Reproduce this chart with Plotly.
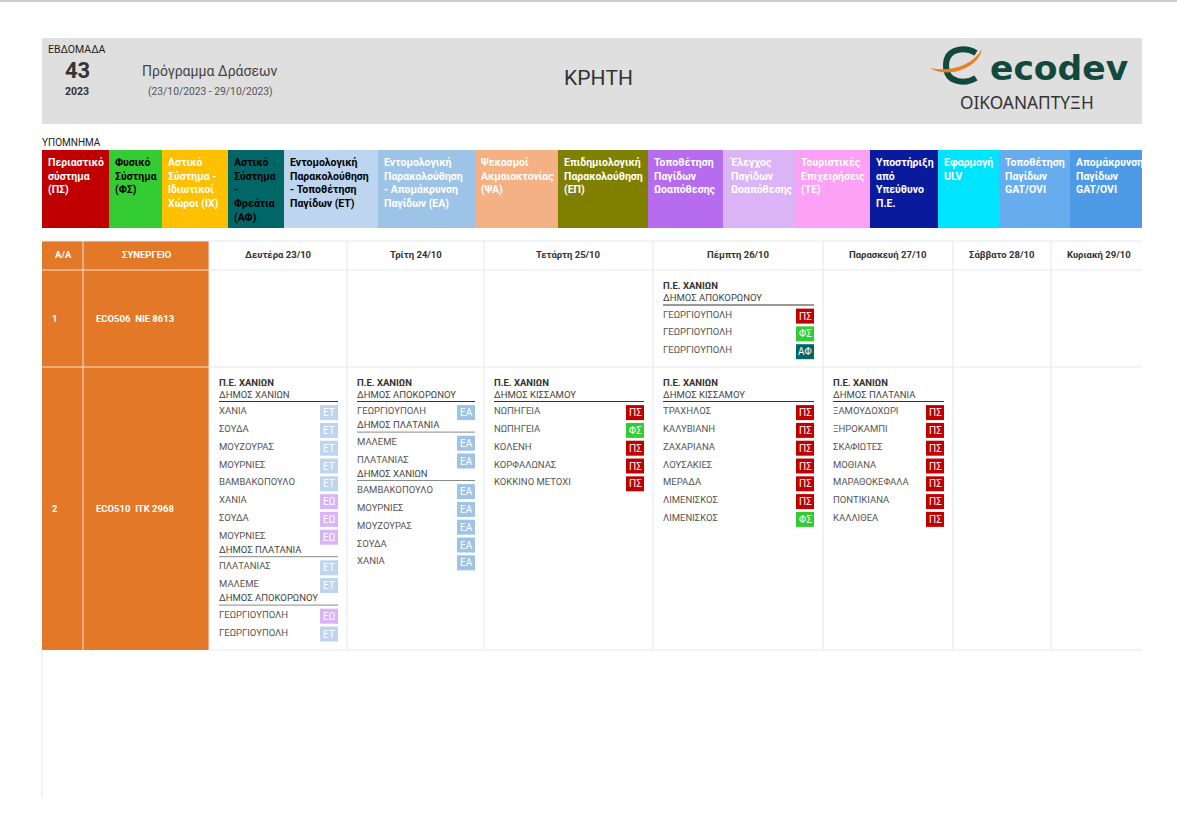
import plotly.graph_objects as go

FONT = "Roboto"

# legend
legend_labels = [
    "Περιαστικό<br>σύστημα<br>(ΠΣ)", "Φυσικό<br>Σύστημα<br>(ΦΣ)", "Αστικό<br>Σύστημα -<br>Ιδιωτικοί<br>Χώροι (ΙΧ)",
    "Αστικό<br>Σύστημα<br>-<br>Φρεάτια<br>(ΑΦ)", "Εντομολογική<br>Παρακολούθηση<br>- Τοποθέτηση<br>Παγίδων (ΕΤ)",
    "Εντομολογική<br>Παρακολούθηση<br>- Απομάκρυνση<br>Παγίδων (ΕΑ)", "Ψεκασμοί<br>Ακμαιοκτονίας<br>(ΨΑ)",
    "Επιδημιολογική<br>Παρακολούθηση<br>(ΕΠ)", "Τοποθέτηση<br>Παγίδων<br>Ωοαπόθεσης", "Έλεγχος<br>Παγίδων<br>Ωοαπόθεσης",
    "Τουριστικές<br>Επιχειρήσεις<br>(ΤΕ)", "Υποστήριξη<br>από<br>Υπεύθυνο<br>Π.Ε.", "Εφαρμογή<br>ULV",
    "Τοποθέτηση<br>Παγίδων<br>GAT/OVI", "Απομάκρυνση<br>Παγίδων<br>GAT/OVI",
]
legend_colors = ["#C00000", "#33CC33", "#FFC000", "#006666", "#BDD5EE", "#9DC3E6", "#F4B183", "#808000",
                 "#B76BEE", "#DAB4F6", "#FCA1F5", "#0A1A9C", "#00E5FF", "#67ADEE", "#4D9BE6"]
legend_text = ["white", "black", "white", "black", "black", "white", "white", "white",
               "white", "white", "white", "white", "white", "white", "white"]
legend_edges = [42, 109, 162, 228, 284, 378, 475, 558, 648, 723, 795, 870, 938, 999, 1070, 1142]

# table
days = ["Δευτέρα 23/10", "Τρίτη 24/10", "Τετάρτη 25/10", "Πέμπτη 26/10", "Παρασκευή 27/10", "Σάββατο 28/10", "Κυριακή 29/10"]
crews = ["ECO506\u00a0\u00a0NIE 8613", "ECO510\u00a0\u00a0ITK 2968"]
badge_colors = {"ΠΣ": "#C00000", "ΦΣ": "#33CC33", "ΑΦ": "#006666", "ΕΤ": "#BDD5EE", "ΕΑ": "#9DC3E6", "ΕΩ": "#DAB4F6"}

# (day index, crew index, [(municipality, [(place, action)])])
crew1_thu = [("ΔΗΜΟΣ ΑΠΟΚΟΡΩΝΟΥ", [("ΓΕΩΡΓΙΟΥΠΟΛΗ", "ΠΣ"), ("ΓΕΩΡΓΙΟΥΠΟΛΗ", "ΦΣ"), ("ΓΕΩΡΓΙΟΥΠΟΛΗ", "ΑΦ")])]
crew2_mon = [
    ("ΔΗΜΟΣ ΧΑΝΙΩΝ", [("ΧΑΝΙΑ", "ΕΤ"), ("ΣΟΥΔΑ", "ΕΤ"), ("ΜΟΥΖΟΥΡΑΣ", "ΕΤ"), ("ΜΟΥΡΝΙΕΣ", "ΕΤ"),
                      ("ΒΑΜΒΑΚΟΠΟΥΛΟ", "ΕΤ"), ("ΧΑΝΙΑ", "ΕΩ"), ("ΣΟΥΔΑ", "ΕΩ"), ("ΜΟΥΡΝΙΕΣ", "ΕΩ")]),
    ("ΔΗΜΟΣ ΠΛΑΤΑΝΙΑ", [("ΠΛΑΤΑΝΙΑΣ", "ΕΤ"), ("ΜΑΛΕΜΕ", "ΕΤ")]),
    ("ΔΗΜΟΣ ΑΠΟΚΟΡΩΝΟΥ", [("ΓΕΩΡΓΙΟΥΠΟΛΗ", "ΕΩ"), ("ΓΕΩΡΓΙΟΥΠΟΛΗ", "ΕΤ")]),
]
crew2_tue = [
    ("ΔΗΜΟΣ ΑΠΟΚΟΡΩΝΟΥ", [("ΓΕΩΡΓΙΟΥΠΟΛΗ", "ΕΑ")]),
    ("ΔΗΜΟΣ ΠΛΑΤΑΝΙΑ", [("ΜΑΛΕΜΕ", "ΕΑ"), ("ΠΛΑΤΑΝΙΑΣ", "ΕΑ")]),
    ("ΔΗΜΟΣ ΧΑΝΙΩΝ", [("ΒΑΜΒΑΚΟΠΟΥΛΟ", "ΕΑ"), ("ΜΟΥΡΝΙΕΣ", "ΕΑ"), ("ΜΟΥΖΟΥΡΑΣ", "ΕΑ"), ("ΣΟΥΔΑ", "ΕΑ"), ("ΧΑΝΙΑ", "ΕΑ")]),
]
crew2_wed = [("ΔΗΜΟΣ ΚΙΣΣΑΜΟΥ", [("ΝΩΠΗΓΕΙΑ", "ΠΣ"), ("ΝΩΠΗΓΕΙΑ", "ΦΣ"), ("ΚΟΛΕΝΗ", "ΠΣ"), ("ΚΟΡΦΑΛΩΝΑΣ", "ΠΣ"), ("ΚΟΚΚΙΝΟ ΜΕΤΟΧΙ", "ΠΣ")])]
crew2_thu = [("ΔΗΜΟΣ ΚΙΣΣΑΜΟΥ", [("ΤΡΑΧΗΛΟΣ", "ΠΣ"), ("ΚΑΛΥΒΙΑΝΗ", "ΠΣ"), ("ΖΑΧΑΡΙΑΝΑ", "ΠΣ"), ("ΛΟΥΣΑΚΙΕΣ", "ΠΣ"),
                                  ("ΜΕΡΑΔΑ", "ΠΣ"), ("ΛΙΜΕΝΙΣΚΟΣ", "ΠΣ"), ("ΛΙΜΕΝΙΣΚΟΣ", "ΦΣ")])]
crew2_fri = [("ΔΗΜΟΣ ΠΛΑΤΑΝΙΑ", [("ΞΑΜΟΥΔΟΧΩΡΙ", "ΠΣ"), ("ΞΗΡΟΚΑΜΠΙ", "ΠΣ"), ("ΣΚΑΦΙΩΤΕΣ", "ΠΣ"), ("ΜΟΘΙΑΝΑ", "ΠΣ"),
                                  ("ΜΑΡΑΘΟΚΕΦΑΛΑ", "ΠΣ"), ("ΠΟΝΤΙΚΙΑΝΑ", "ΠΣ"), ("ΚΑΛΛΙΘΕΑ", "ΠΣ")])]
schedule = [(3, 0, crew1_thu), (0, 1, crew2_mon), (1, 1, crew2_tue), (2, 1, crew2_wed), (3, 1, crew2_thu), (4, 1, crew2_fri)]

col_edges = [42, 83, 209, 347, 484, 653, 823, 953, 1051, 1147]
row_edges = [241, 270, 367, 650]
RIGHT = 1142
GRID = "#E4E7EE"
ORANGE = "#E27828"
GREEN = "#12493D"

shapes = []
notes = []


def rect(x0, y0, x1, y1, color):
    shapes.append(dict(type="rect", x0=x0, y0=y0, x1=x1, y1=y1, fillcolor=color, line_width=0, layer="below"))


def line(x0, y0, x1, y1, color, width=1):
    shapes.append(dict(type="line", x0=x0, y0=y0, x1=x1, y1=y1, line=dict(color=color, width=width)))


def text(x, y, s, size=9.5, color="#444444", anchor="left", bold=False, family=FONT, vanchor="middle"):
    # plotly sits left-anchored text about a pixel to the right
    if anchor == "left":
        x -= 1
    notes.append(dict(x=x, y=y, text="<b>%s</b>" % s if bold else s, showarrow=False, xanchor=anchor, yanchor=vanchor,
                      align=anchor, borderpad=0, font=dict(family=family, size=size, color=color)))


# top strip and header band
line(0, 1, 1177, 1, "#BDBDBD", 1.5)
rect(42, 38, RIGHT, 124, "#DFDFDF")
text(77, 49, "ΕΒΔΟΜΑΔΑ", 10.5, "#222222", "center")
text(77, 70, "43", 22, "#333333", "center", True)
text(77, 91, "2023", 10.5, "#333333", "center", True)
text(142, 71, "Πρόγραμμα Δράσεων", 14, "#444444")
text(148, 91, "(23/10/2023 - 29/10/2023)", 10.3, "#555555")
text(598, 78, "ΚΡΗΤΗ", 21, "#333333", "center")

# logo
shapes.append(dict(type="path", path="M 976 53 C 966 47 946 47 946 65.5 C 946 84 966 84 976 78",
                   line=dict(color=GREEN, width=6), fillcolor="rgba(0,0,0,0)"))
shapes.append(dict(type="path", path="M 930 68 C 950 72 972 66 982 49 C 980 66 950 80 930 68 Z",
                   line_width=0, fillcolor="#E8822A"))
text(990, 68, "ecodev", 34.5, GREEN, "left", True, "DejaVu Sans")
text(1027, 102, "ΟΙΚΟΑΝΑΠΤΥΞΗ", 17.3, "#333333", "center", False, "Noto Sans")

# legend
text(42, 142, "ΥΠΟΜΝΗΜΑ", 10, "#222222")
for i, label in enumerate(legend_labels):
    rect(legend_edges[i], 150, legend_edges[i + 1], 228, legend_colors[i])
    text(legend_edges[i] + 6, 154.5, label, 10.5, legend_text[i], "left", True, vanchor="top")

# table frame
rect(col_edges[0], row_edges[0], col_edges[2], row_edges[3], ORANGE)
for y in row_edges:
    line(col_edges[2], y, RIGHT, y, GRID)
    if y != row_edges[3]:
        line(col_edges[0], y, col_edges[2], y, "#F5E3D5" if y != row_edges[0] else GRID)
for x in col_edges[2:-1]:
    line(x, row_edges[0], x, row_edges[3], GRID)
line(col_edges[1], row_edges[0], col_edges[1], row_edges[3], "#F5E3D5")
line(42, row_edges[3], 42, 797, GRID)

text(63, 254.5, "Α/Α", 9.5, "white", "center", True)
text(146.5, 254.5, "ΣΥΝΕΡΓΕΙΟ", 9.5, "white", "center", True)
for i, day in enumerate(days):
    text((col_edges[i + 2] + col_edges[i + 3]) / 2, 254.5, day, 9.5, "#333333", "center", True)

for i, crew in enumerate(crews):
    mid = (row_edges[i + 1] + row_edges[i + 2]) / 2
    text(52, mid, str(i + 1), 9.5, "white", "left", True)
    text(95.5, mid, crew, 9.5, "white", "left", True)

# schedule cells
for day_i, crew_i, groups in schedule:
    left = col_edges[day_i + 2]
    right = col_edges[day_i + 3]
    y = row_edges[crew_i + 1] + (15.5 if crew_i == 0 else 15)
    text(left + 10, y, "Π.Ε. ΧΑΝΙΩΝ", 9.5, "#333333", "left", True)
    y += 12
    for g, (municipality, items) in enumerate(groups):
        if g > 0:
            y -= 3.8
        text(left + 10, y, municipality, 9.5, "#444444")
        line(left + 10, y + 7.5, right - 9, y + 7.5, "#333333" if g == 0 else "#888888")
        y += 16.6
        for place, action in items:
            text(left + 10, y, place, 9.5, "#555555")
            rect(right - 27, y - 5.5, right - 9, y + 9.5, badge_colors[action])
            text(right - 18, y + 2, action, 10, "white", "center")
            y += 17.8

fig = go.Figure()
fig.update_layout(
    width=1177, height=832, margin=dict(l=0, r=0, t=0, b=0),
    paper_bgcolor="white", plot_bgcolor="white", showlegend=False,
    xaxis=dict(range=[0, 1177], visible=False, fixedrange=True),
    yaxis=dict(range=[832, 0], visible=False, fixedrange=True),
    shapes=shapes, annotations=notes,
)
fig.write_html("out.html", config={"displayModeBar": False}, post_script="document.body.style.margin='0';")
